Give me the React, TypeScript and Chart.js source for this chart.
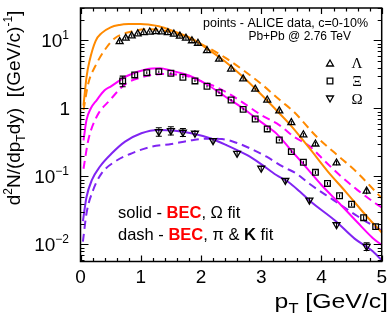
import React, { useEffect, useRef } from "react";
import { Chart, registerables } from "chart.js";
Chart.register(...registerables);

// ---- data (ALICE points) ----
const lambdaPt = [0.65, 0.75, 0.85, 0.95, 1.05, 1.15, 1.25, 1.35, 1.45, 1.55, 1.65, 1.75, 1.85, 1.95, 2.1, 2.3, 2.5, 2.7, 2.9, 3.1, 3.3, 3.5, 3.7, 3.9, 4.25, 4.75];
const lambdaVal = [9.6, 10.8, 11.7, 12.5, 13.0, 13.3, 13.5, 13.4, 13.0, 12.4, 11.6, 10.8, 9.9, 9.1, 7.1, 5.3, 3.8, 2.72, 1.92, 1.33, 0.92, 0.62, 0.41, 0.30, 0.158, 0.061];
const lambdaErr = [0.6, 0.6, 0.6, 0.6, 0.6, 0.6, 0.6, 0.6, 0.6, 0.6, 0.6, 0.6, 0.6, 0.5, 0.4, 0.3, 0.2, 0.15, 0.1, 0.07, 0.05, 0.035, 0.025, 0.02, 0.012, 0.006];

const xiPt = [0.7, 0.9, 1.1, 1.3, 1.5, 1.7, 1.9, 2.1, 2.3, 2.5, 2.7, 2.9, 3.1, 3.3, 3.5, 3.7, 3.9, 4.1, 4.3, 4.5, 4.7, 4.9];
const xiVal = [2.54, 3.11, 3.36, 3.48, 3.29, 2.88, 2.54, 2.12, 1.70, 1.33, 0.97, 0.70, 0.50, 0.344, 0.232, 0.162, 0.115, 0.079, 0.052, 0.039, 0.0248, 0.0183];
const xiErr = [0.45, 0.2, 0.15, 0.15, 0.12, 0.1, 0.1, 0.08, 0.06, 0.05, 0.04, 0.03, 0.02, 0.015, 0.01, 0.008, 0.006, 0.004, 0.003, 0.0025, 0.002, 0.0018];

const omegaPt = [1.3, 1.5, 1.7, 1.9, 2.2, 2.6, 3.0, 3.4, 3.8, 4.25, 4.75];
const omegaVal = [0.456, 0.472, 0.447, 0.432, 0.336, 0.219, 0.132, 0.0873, 0.0448, 0.0195, 0.00935];
const omegaErr = [0.065, 0.065, 0.06, 0.05, 0.03, 0.02, 0.012, 0.008, 0.004, 0.002, 0.0012];

// ---- model curves (BEC) ----
const lamSolidPt = [0.05, 0.1, 0.15, 0.25, 0.35, 0.5, 0.65, 0.8, 1.0, 1.15, 1.3, 1.55, 1.85, 2.1, 2.4, 2.7, 3.0, 3.3, 3.5, 3.8, 4.1, 4.4, 4.75, 5.0];
const lamSolidVal = [1.1, 2.9, 5.0, 9.8, 12.8, 15.6, 16.9, 17.4, 17.5, 17.0, 16.2, 13.6, 10.6, 7.6, 4.9, 2.9, 1.6, 0.85, 0.55, 0.26, 0.12, 0.06, 0.026, 0.015];
const lamDashPt = [0.05, 0.13, 0.24, 0.4, 0.57, 0.85, 1.12, 1.46, 1.79, 2.1, 2.4, 2.73, 3.0, 3.3, 3.55, 3.9, 4.2, 4.58, 5.0];
const lamDashVal = [0.95, 2.35, 4.1, 7.2, 10.8, 13.5, 14.6, 13.5, 10.8, 8.0, 5.6, 3.5, 2.3, 1.35, 0.88, 0.40, 0.23, 0.117, 0.048];

const xiSolidPt = [0.05, 0.1, 0.17, 0.27, 0.4, 0.5, 0.77, 1.1, 1.32, 1.5, 1.8, 2.1, 2.4, 2.7, 3.0, 3.25, 3.5, 3.75, 4.0, 4.3, 4.6, 4.85, 5.0];
const xiSolidVal = [0.34, 0.68, 1.0, 1.33, 1.85, 2.1, 3.0, 3.77, 3.9, 3.6, 3.05, 2.25, 1.5, 1.0, 0.63, 0.43, 0.24, 0.135, 0.075, 0.04, 0.021, 0.0125, 0.0098];
const xiDashPt = [0.05, 0.13, 0.27, 0.49, 0.75, 1.0, 1.35, 1.7, 1.93, 2.3, 2.65, 3.0, 3.3, 3.55, 3.8, 4.05, 4.3, 4.6, 4.9, 5.0];
const xiDashVal = [0.13, 0.344, 0.76, 1.33, 2.3, 2.85, 3.2, 3.1, 2.65, 1.98, 1.3, 0.8, 0.57, 0.38, 0.28, 0.17, 0.105, 0.063, 0.04, 0.035];

const omSolidPt = [0.04, 0.1, 0.19, 0.32, 0.52, 0.74, 1.01, 1.29, 1.57, 1.84, 2.15, 2.42, 2.76, 2.98, 3.25, 3.45, 3.64, 3.83, 4.22, 4.55, 4.83, 5.0];
const omSolidVal = [0.022, 0.05, 0.089, 0.139, 0.219, 0.325, 0.432, 0.483, 0.472, 0.432, 0.365, 0.29, 0.207, 0.156, 0.105, 0.083, 0.06, 0.0422, 0.0227, 0.0122, 0.0082, 0.0059];
const omDashPt = [0.04, 0.1, 0.21, 0.35, 0.57, 0.85, 1.18, 1.51, 1.84, 2.1, 2.35, 2.6, 2.81, 3.09, 3.36, 3.58, 3.8, 4.2, 4.6, 5.0];
const omDashVal = [0.011, 0.0288, 0.0633, 0.111, 0.165, 0.219, 0.274, 0.30, 0.34, 0.36, 0.355, 0.31, 0.26, 0.195, 0.139, 0.111, 0.078, 0.045, 0.026, 0.016];

// ---- axes ----
const xMin = 0, xMax = 5;
const yMin = 0.00562, yMax = 30;
const xTickValues = [0, 1, 2, 3, 4, 5];
const xTickLabels = ["0", "1", "2", "3", "4", "5"];
const yTickValues = [0.01, 0.1, 1, 10];
const yTickBase = ["10", "10", "1", "10"];
const yTickExp = ["-2", "-1", "", "1"];

const ORANGE = "#ff8a00";
const MAGENTA = "#ff00ff";
const PURPLE = "#8024f2";
const FONT = "'Liberation Sans', Arial, sans-serif";
const SERIF = "'Liberation Serif', 'Times New Roman', serif";

type Run = { t: string; size: number; bold?: boolean; color?: string; dy?: number; fam?: string };

function runsWidth(ctx: CanvasRenderingContext2D, runs: Run[]) {
  let w = 0;
  for (const r of runs) {
    ctx.font = `${r.bold ? "bold " : ""}${r.size}px ${r.fam || FONT}`;
    w += ctx.measureText(r.t).width;
  }
  return w;
}
function drawRuns(ctx: CanvasRenderingContext2D, runs: Run[], x: number, y: number, align: "left" | "right" | "center", sx = 1) {
  const w = runsWidth(ctx, runs) * sx;
  const start = align === "left" ? x : align === "right" ? x - w : x - w / 2;
  ctx.save();
  ctx.translate(start, y);
  ctx.scale(sx, 1);
  let cx = 0;
  ctx.textAlign = "left";
  ctx.textBaseline = "alphabetic";
  for (const r of runs) {
    ctx.font = `${r.bold ? "bold " : ""}${r.size}px ${r.fam || FONT}`;
    ctx.fillStyle = r.color || "#000";
    ctx.fillText(r.t, cx, r.dy || 0);
    cx += ctx.measureText(r.t).width;
  }
  ctx.restore();
}

function marker(ctx: CanvasRenderingContext2D, style: string, x: number, y: number, r: number) {
  ctx.beginPath();
  if (style === "rect") {
    const s = r * Math.SQRT1_2;
    ctx.rect(x - s, y - s, 2 * s, 2 * s);
  } else {
    const rot = style === "down" ? Math.PI : 0;
    for (let i = 0; i < 3; i++) {
      const a = rot + (i * 2 * Math.PI) / 3;
      const px = x + Math.sin(a) * r;
      const py = y - Math.cos(a) * r;
      if (i === 0) ctx.moveTo(px, py);
      else ctx.lineTo(px, py);
    }
    ctx.closePath();
  }
  ctx.strokeStyle = "#000";
  ctx.lineWidth = 1.3;
  ctx.stroke();
}

const pts = (xs: number[], ys: number[]) => xs.map((x, i) => ({ x, y: ys[i] }));

const errSets = [
  { pt: lambdaPt, val: lambdaVal, err: lambdaErr },
  { pt: xiPt, val: xiVal, err: xiErr },
  { pt: omegaPt, val: omegaVal, err: omegaErr },
];

const decorPlugin = {
  id: "decor",
  afterDatasetsDraw(chart: any) {
    const ctx: CanvasRenderingContext2D = chart.ctx;
    const xs = chart.scales.x;
    const ys = chart.scales.y;
    const { left, right, top, bottom } = chart.chartArea;
    ctx.save();
    // error bars
    ctx.strokeStyle = "#000";
    ctx.lineWidth = 1.1;
    for (const s of errSets) {
      s.pt.forEach((p, i) => {
        const px = xs.getPixelForValue(p);
        const y1 = ys.getPixelForValue(s.val[i] + s.err[i]);
        const y2 = ys.getPixelForValue(Math.max(s.val[i] - s.err[i], 1e-4));
        ctx.beginPath();
        ctx.moveTo(px, y1);
        ctx.lineTo(px, y2);
        if (y2 - y1 > 7) {
          ctx.moveTo(px - 3, y1);
          ctx.lineTo(px + 3, y1);
          ctx.moveTo(px - 3, y2);
          ctx.lineTo(px + 3, y2);
        }
        ctx.stroke();
      });
    }
    // frame
    ctx.lineWidth = 1.5;
    ctx.strokeStyle = "#000";
    ctx.strokeRect(left, top, right - left, bottom - top);
    ctx.lineWidth = 1.2;
    ctx.beginPath();
    for (let v = xMin; v <= xMax + 1e-9; v += 0.2) {
      const px = Math.round(xs.getPixelForValue(v)) + 0.5;
      const major = Math.abs(v - Math.round(v)) < 1e-6;
      const len = major ? 6 : 3.5;
      ctx.moveTo(px, bottom);
      ctx.lineTo(px, bottom - len);
      ctx.moveTo(px, top);
      ctx.lineTo(px, top + len);
    }
    for (let d = -3; d <= 1; d++) {
      for (let k = 1; k <= 9; k++) {
        const v = k * Math.pow(10, d);
        if (v < yMin || v > yMax) continue;
        const py = Math.round(ys.getPixelForValue(v)) + 0.5;
        const len = k === 1 ? 8 : 4;
        ctx.moveTo(left, py);
        ctx.lineTo(left + len, py);
        ctx.moveTo(right, py);
        ctx.lineTo(right - len, py);
      }
    }
    ctx.stroke();

    // x tick labels
    xTickValues.forEach((v, i) => {
      drawRuns(ctx, [{ t: xTickLabels[i], size: 19 }], xs.getPixelForValue(v), bottom + 21, "center");
    });
    // y tick labels
    yTickValues.forEach((v, i) => {
      const py = ys.getPixelForValue(v);
      const runs: Run[] = [{ t: yTickBase[i], size: 19 }];
      if (yTickExp[i]) runs.push({ t: yTickExp[i].replace("-", "\u2212"), size: 12, dy: -8 });
      drawRuns(ctx, runs, yTickExp[i] ? 69 : 70, py + 7, "right");
    });
    // x title
    drawRuns(
      ctx,
      [
        { t: "p", size: 21 },
        { t: "T", size: 14, dy: 5 },
        { t: " [GeV/c]", size: 21 },
      ],
      388,
      308,
      "right",
      1.18
    );
    // y title
    ctx.save();
    ctx.translate(20, 108);
    ctx.rotate(-Math.PI / 2);
    drawRuns(
      ctx,
      [
        { t: "d", size: 19 },
        { t: "2", size: 12, dy: -8 },
        { t: "N/(dp", size: 19 },
        { t: "T", size: 12, dy: 5 },
        { t: "dy)  [(GeV/c)", size: 19 },
        { t: "-1", size: 12, dy: -8 },
        { t: "]", size: 19 },
      ],
      0,
      0,
      "center"
    );
    ctx.restore();

    // legend header
    drawRuns(ctx, [{ t: "points - ALICE data, c=0-10%", size: 12.5 }], 368, 27, "right");
    drawRuns(ctx, [{ t: "Pb+Pb @ 2.76 TeV", size: 12 }], 351, 40, "right");
    // symbol legend
    marker(ctx, "triangle", 330, 64, 4);
    marker(ctx, "rect", 330, 81, 4);
    marker(ctx, "down", 330, 98, 4);
    drawRuns(ctx, [{ t: "\u039B", size: 15, fam: SERIF }], 357, 68, "center");
    drawRuns(ctx, [{ t: "\u039E", size: 15, fam: SERIF }], 357, 86, "center");
    drawRuns(ctx, [{ t: "\u03A9", size: 15, fam: SERIF }], 357, 104, "center");

    // bottom-left annotation
    drawRuns(
      ctx,
      [
        { t: "solid - ", size: 16.5 },
        { t: "BEC", size: 16.5, bold: true, color: "#ff0000" },
        { t: ", ", size: 16.5 },
        { t: "\u03A9", size: 16.5 },
        { t: " fit", size: 16.5 },
      ],
      118,
      218,
      "left"
    );
    drawRuns(
      ctx,
      [
        { t: "dash - ", size: 16.5 },
        { t: "BEC", size: 16.5, bold: true, color: "#ff0000" },
        { t: ", ", size: 16.5 },
        { t: "\u03C0", size: 16.5 },
        { t: " & ", size: 16.5 },
        { t: "K", size: 16.5, bold: true },
        { t: " fit", size: 16.5 },
      ],
      118,
      240,
      "left"
    );
    ctx.restore();
  },
};

export default function App() {
  const ref = useRef<HTMLCanvasElement | null>(null);
  useEffect(() => {
    document.body.style.margin = "0";
    const canvas = ref.current!;
    const line = (xs: number[], ys: number[], color: string, dashed: boolean) => ({
      type: "line" as const,
      data: pts(xs, ys),
      borderColor: color,
      borderWidth: 2,
      borderDash: dashed ? [8, 5] : [],
      pointRadius: 0,
      fill: false,
      tension: 0,
      cubicInterpolationMode: "monotone" as const,
    });
    const scatter = (xs: number[], ys: number[], style: string, rot: number) => ({
      type: "line" as const,
      data: pts(xs, ys),
      showLine: false,
      pointStyle: style,
      pointRotation: rot,
      pointRadius: 4,
      pointBorderWidth: 1.3,
      pointBorderColor: "#000",
      pointBackgroundColor: "rgba(0,0,0,0)",
    });
    const chart = new Chart(canvas, {
      type: "line",
      data: {
        datasets: [
          scatter(lambdaPt, lambdaVal, "triangle", 0),
          scatter(xiPt, xiVal, "rect", 0),
          scatter(omegaPt, omegaVal, "triangle", 180),
          line(lamSolidPt, lamSolidVal, ORANGE, false),
          line(lamDashPt, lamDashVal, ORANGE, true),
          line(xiSolidPt, xiSolidVal, MAGENTA, false),
          line(xiDashPt, xiDashVal, MAGENTA, true),
          line(omSolidPt, omSolidVal, PURPLE, false),
          line(omDashPt, omDashVal, PURPLE, true),
        ] as any,
      },
      options: {
        responsive: false,
        animation: false,
        devicePixelRatio: 1,
        clip: false as any,
        layout: { padding: { left: 80.5, right: 8.3, top: 8, bottom: 62.5 } },
        plugins: { legend: { display: false }, tooltip: { enabled: false } },
        scales: {
          x: { type: "linear", min: xMin, max: xMax, display: false },
          y: { type: "logarithmic", min: yMin, max: yMax, display: false },
        },
      },
      plugins: [decorPlugin],
    });
    return () => chart.destroy();
  }, []);
  return (
    <div style={{ width: 390, height: 324, background: "#fff" }}>
      <canvas ref={ref} width={390} height={324} style={{ display: "block" }} />
    </div>
  );
}
